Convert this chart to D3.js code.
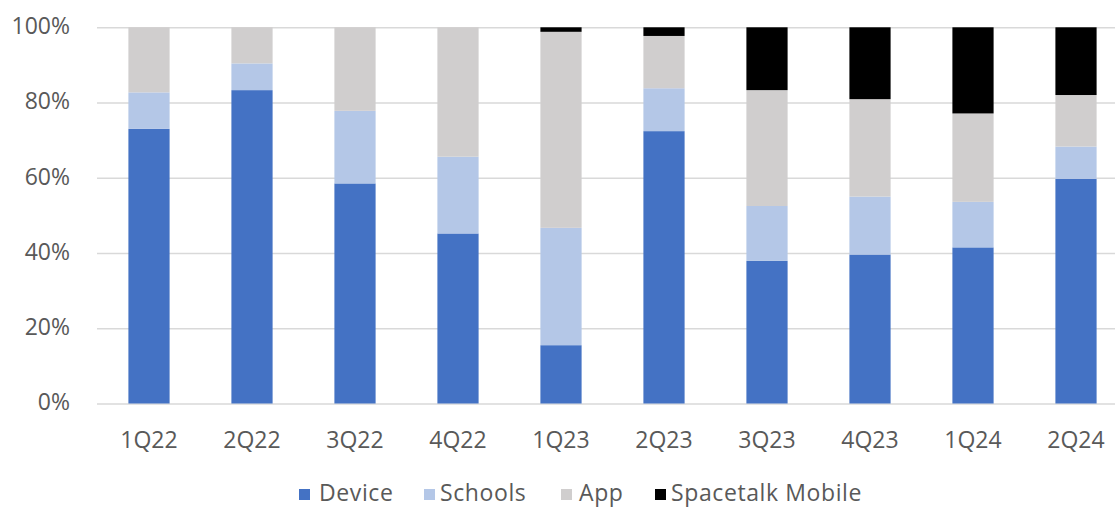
<!DOCTYPE html>
<html><head><meta charset="utf-8">
<script src="https://cdn.jsdelivr.net/npm/d3@7"></script>
<style>body{margin:0;background:#fff}svg{display:block}text{font-family:"Open Sans",sans-serif}</style>
</head><body><svg id="c" width="1115" height="508"></svg>
<script>
const categories = ["1Q22","2Q22","3Q22","4Q22","1Q23","2Q23","3Q23","4Q23","1Q24","2Q24"];
const seriesNames = ["Device","Schools","App","Spacetalk Mobile"];
const device  = [73.0, 83.3, 58.5, 45.2, 15.5, 72.4, 37.9, 39.6, 41.5, 59.7];
const schools = [9.7, 7.1, 19.3, 20.4, 31.2, 11.4, 14.6, 15.4, 12.1, 8.6];
const app     = [17.3, 9.6, 22.2, 34.4, 52.1, 13.9, 30.8, 25.9, 23.5, 13.7];
const mobile  = [0, 0, 0, 0, 1.2, 2.3, 16.7, 19.1, 22.9, 18.0];
const yTicks = [0, 20, 40, 60, 80, 100];
const colors = ["#4472C4", "#B4C7E7", "#D0CECE", "#000000"];

const svg = d3.select("#c");
const x = d3.scaleBand().domain(categories).range([97.5, 1127.5]).paddingInner(0.6).paddingOuter(0.3);
const y = d3.scaleLinear().domain([0, 100]).range([403.5, 27.3]);

const rows = categories.map((c, i) => ({cat: c, "Device": device[i], "Schools": schools[i], "App": app[i], "Spacetalk Mobile": mobile[i]}));
const stacked = d3.stack().keys(seriesNames)(rows);

// gridlines + y labels
const yAxis = d3.axisLeft(y).tickValues(yTicks).tickFormat(d => d + "%").tickSize(-(1115 - 97)).tickPadding(27);
const ga = svg.append("g").attr("transform", "translate(97,0)").call(yAxis);
ga.select(".domain").remove();
ga.selectAll(".tick line").attr("stroke", "#D9D9D9").attr("stroke-width", 1.5);
ga.selectAll(".tick text").attr("fill", "#595959").attr("font-size", 23).attr("dy", "0.28em");

// bars
svg.append("g").selectAll("g").data(stacked).join("g")
  .attr("fill", (d, i) => colors[i])
  .selectAll("rect").data(d => d).join("rect")
  .attr("x", d => x(d.data.cat))
  .attr("width", x.bandwidth())
  .attr("y", d => y(d[1]))
  .attr("height", d => Math.max(0, y(d[0]) - y(d[1])));

// x axis
const xAxis = d3.axisBottom(x).tickSize(0).tickPadding(28);
const gx = svg.append("g").attr("transform", "translate(0,403.5)").call(xAxis);
gx.select(".domain").remove();
gx.selectAll(".tick text").attr("fill", "#595959").attr("font-size", 23);

// legend
const legendSq = [299, 424, 561, 655];
const legendTx = [319, 440, 579, 671];
const lg = svg.append("g");
seriesNames.forEach((n, i) => {
  lg.append("rect").attr("x", legendSq[i]).attr("y", 489).attr("width", 11).attr("height", 11).attr("fill", colors[i]);
  lg.append("text").attr("x", legendTx[i]).attr("y", 501).attr("fill", "#595959").attr("font-size", 23)
    .attr("letter-spacing", 0.6).text(n);
});
</script></body></html>
